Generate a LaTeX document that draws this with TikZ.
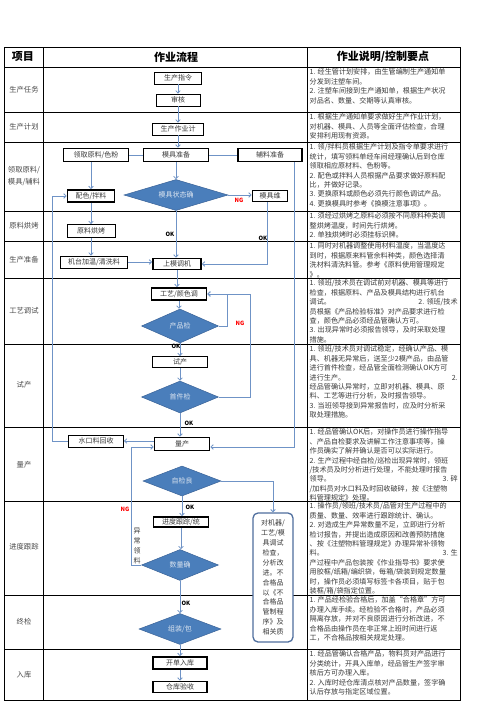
\documentclass[tikz,border=0pt]{standalone}
\usepackage{fontspec}
\setmainfont{Noto Sans CJK SC}
\usetikzlibrary{shapes.geometric,arrows.meta}
\definecolor{txt}{HTML}{3A3A3A}
\definecolor{lab}{HTML}{4A4A4A}
\definecolor{conncol}{HTML}{6F93C6}
\definecolor{diafill}{HTML}{4A7EBB}
\definecolor{diadraw}{HTML}{3A6398}
\definecolor{diatext}{HTML}{DCE5F0}
\definecolor{rbdraw}{HTML}{4F6E9E}
\newcommand\fs{\fontsize{7}{8}\selectfont}
\newcommand\RL[1]{\makebox[148pt][l]{#1}}
\tikzset{
  grid/.style={draw=black,line width=0.9pt},
  box/.style={draw=black,line width=0.9pt,fill=white,minimum height=12pt,inner sep=0pt,font=\fs,text=txt},
  tbox/.style={box,line width=1.6pt},
  dia/.style={diamond,aspect=3,inner sep=0pt,fill=diafill,draw=diadraw,line width=0.5pt,font=\fs,text=diatext},
  conn/.style={draw=conncol,line width=0.8pt},
  arr/.style={conn,-{Straight Barb[length=2.4pt,width=4.6pt]}},
  rowlab/.style={font=\fontsize{7.3}{10}\selectfont,text=lab,align=center,inner sep=0pt},
  rt/.style={anchor=north west,inner sep=0pt,align=left,font=\fontsize{7.1}{9.45}\selectfont,text=txt},
  head/.style={font=\fontsize{11}{12}\selectfont\bfseries,text=black,inner sep=0pt},
  ok/.style={font=\fontsize{5.8}{6}\selectfont\bfseries,text=black,inner sep=0pt},
  ng/.style={font=\fontsize{5.8}{6}\selectfont\bfseries,text=red,inner sep=0pt}
}
\begin{document}
\begin{tikzpicture}[x=1pt,y=-1pt]
\useasboundingbox (0,0) rectangle (496,702);
\fill[white] (0,0) rectangle (496,702);
% table
\draw[grid] (4,47) rectangle (460,700);
\foreach \yy in {67,112,142,211,241,278,344,427,501,595,649} \draw[grid] (4,\yy) -- (460,\yy);
\draw[grid] (43,47) -- (43,700);
\draw[grid] (307,47) -- (307,700);
% header
\node[head] (h1) at (23,57) {项目};
\node[head] (h2) at (176,57) {作业流程};
\node[head] (h3) at (383,57) {作业说明/控制要点};
% row labels
\node[rowlab] (r1) at (24,90) {生产任务};
\node[rowlab] (r2) at (24,127) {生产计划};
\node[rowlab,font=\fontsize{7.3}{12}\selectfont] (r3) at (24,176) {领取原料/\\模具/辅料};
\node[rowlab] (r4) at (24,226) {原料烘烤};
\node[rowlab] (r5) at (24,260) {生产准备};
\node[rowlab] (r6) at (24,311) {工艺调试};
\node[rowlab] (r7) at (24,385) {试产};
\node[rowlab] (r8) at (24,465) {量产};
\node[rowlab] (r9) at (24,547) {进度跟踪};
\node[rowlab] (r10) at (24,622) {终检};
\node[rowlab] (r11) at (24,675) {入库};
% flow nodes
\node[box,minimum width=47pt] (n1) at (178,78) {生产指令};
\node[box,minimum width=44pt] (n2) at (178,100) {审核};
\node[box,minimum width=51pt] (n3) at (178,129) {生产作业计};
\node[tbox,minimum width=65pt,minimum height=13pt] (n4) at (96,155) {领取原料/色粉};
\node[tbox,minimum width=65pt,minimum height=13pt] (n5) at (176,155) {模具准备};
\node[tbox,minimum width=64pt,minimum height=13pt] (n6) at (270,155) {辅料准备};
\node[tbox,minimum width=47pt] (n7) at (91,196) {配色/拌料};
\node[dia,minimum width=104pt,minimum height=31pt] (d1) at (176,195) {模具状态确};
\node[tbox,minimum width=35pt,minimum height=11pt] (n8) at (270,196) {模具维};
\node[box,minimum width=48pt,minimum height=13pt] (n9) at (91,231) {原料烘烤};
\node[box,minimum width=67pt] (n10) at (94,262) {机台加温/清洗料};
\node[tbox,minimum width=48pt,minimum height=11pt] (n11) at (177,264) {上模调机};
\node[tbox,minimum width=55pt] (n12) at (179,294) {工艺/颜色调};
\node[dia,minimum width=77pt,minimum height=34pt] (d2) at (180,326) {产品检};
\node[box,minimum width=55pt,minimum height=11pt] (n13) at (180,362) {试产};
\node[dia,minimum width=77pt,minimum height=32pt] (d3) at (180,397) {首件检};
\node[box,minimum width=55pt] (n14) at (96,441) {水口料回收};
\node[tbox,minimum width=55pt,minimum height=13pt] (n15) at (182,444) {量产};
\node[dia,minimum width=78pt,minimum height=30pt] (d4) at (182,481) {自检良};
\node[tbox,minimum width=55pt,minimum height=10pt] (n16) at (181,522) {进度跟踪/统};
\node[dia,minimum width=77pt,minimum height=31pt] (d5) at (180,565) {数量确};
\node[dia,minimum width=82pt,minimum height=31pt] (d6) at (180,629) {组装/包};
\node[tbox,minimum width=54pt] (n17) at (180,663) {开单入库};
\node[tbox,minimum width=54pt,minimum height=11pt] (n18) at (180,687) {仓库验收};
\node[draw=rbdraw,line width=1.3pt,rounded corners=5pt,fill=white,minimum width=40pt,minimum height=129pt,inner sep=0pt,align=center,font=\fontsize{7}{9.9}\selectfont,text=txt] (rb) at (273,577.5)
 {对机器/\\工艺/模\\具调试\\检查，\\分析改\\进。不\\合格品\\以《不\\合格品\\管制程\\序》及\\相关质};
\node[inner sep=0pt,align=center,font=\fontsize{7}{10.3}\selectfont,text=txt] (vt) at (137,546) {异\\常\\领\\料};
% coordinates
\coordinate (jx) at (250,294);
\coordinate (q) at (131,447);
\coordinate (r) at (294,447);
\coordinate (p) at (52,441);
% connectors
\draw[arr] (n1) -- (n2);
\draw[arr] (n2) -- (n3);
\draw[arr] (n3.south) -- (n3.south |- n5.north);
\draw[conn] (n4) -- (n5);
\draw[conn] (n5) -- (n6);
\draw[arr] (n4.south -| n7.north) -- (n7.north);
\draw[arr] (n5.south) -- (n5.south |- d1.north);
\draw[arr] (d1.east) -- (d1.east -| n8.west);
\draw[arr] (d1.south) -- (d1.south |- n11.north);
\draw[arr] (n7) -- (n9);
\draw[arr] (n9.south) -- (n9.south |- n10.north);
\draw[arr] (n10.east) -- (n10.east -| n11.west);
\draw[arr] ([xshift=-3pt]n8.south) -- ([xshift=-3pt]n8.south |- n11.east) -- (n11.east);
\draw[arr] (n11.south) -- (n11.south |- n12.north);
\draw[arr] (n12.south) -- (n12.south |- d2.north);
\draw[arr] (d2.east) -- ++(9,0) |- (n12.east);
\draw[arr] (d2.south) -- (d2.south |- n13.north);
\draw[arr] (n13.south) -- (n13.south |- d3.north);
\draw[arr] (d3.east) -| (jx) -- (n12.east);
\draw[arr] (d3.south) -- (d3.south |- n15.north);
\draw[arr] ([yshift=3pt]n15.west) -- ([yshift=3pt]n15.west -| n14.east);
\draw[arr] (n6.south -| r) -- (r) -- (r -| n15.east);
\draw[arr] (d4.east) -| (rb.north);
\draw[arr] (d4.south) -- (d4.south |- n16.north);
\draw[arr] (n16.south) -- (n16.south |- d5.north);
\draw[arr] (d5.west) -| (q) -- (q -| n15.west);
\draw[arr] (d5.south) -- (d5.south |- d6.north);
\draw[arr] (d6.south) -- (d6.south |- n17.north);
\draw[arr] (n17) -- (n18);
\draw[arr] (n14.west) -- (n14.west -| p) |- (n7.west);
% labels
\node[ok] (l1) at (170,234) {OK};
\node[ok] (l2) at (263,238) {OK};
\node[ng] (l3) at (239,200) {NG};
\node[ng] (l4) at (240,323) {NG};
\node[ok] (l5) at (176,346) {OK};
\node[ok] (l6) at (189,423) {OK};
\node[ok] (l7) at (190,507) {OK};
\node[ng] (l8) at (125,509) {NG};
\node[ok] (l9) at (186,603) {OK};
% right column texts
\node[rt] (t1) at (309.5,68.5) {\RL{1. 经生管计划安排，由生管编制生产通知单}\\\RL{分发到注塑车间。}\\\RL{2. 注塑车间接到生产通知单，根据生产状况}\\\RL{对品名、数量、交期等认真审核。}};
\node[rt] (t2) at (309.5,113.5) {\RL{1. 根据生产通知单要求做好生产作业计划，}\\\RL{对机器、模具、人员等全面评估检查，合理}\\\RL{安排利用现有资源。}};
\node[rt] (t3) at (309.5,143.5) {\RL{1. 领/拌料员根据生产计划及指令单要求进行}\\\RL{统计，填写领料单经车间经理确认后到仓库}\\\RL{领取相应原材料、色粉等。}\\\RL{2. 配色或拌料人员根据产品要求做好原料配}\\\RL{比，并做好记录。}\\\RL{3. 更换原料或颜色必须先行颜色调试产品。}\\\RL{4. 更换模具时参考《换模注意事项》。}};
\node[rt] (t4) at (309.5,212.5) {\RL{1. 须经过烘烤之原料必须按不同原料种类调}\\\RL{整烘烤温度，时间先行烘烤。}\\\RL{2. 单独烘烤时必须挂标识牌。}};
\node[rt] (t5) at (309.5,242.5) {\RL{1. 同时对机器调整使用材料温度，当温度达}\\\RL{到时，根据原来料管余料种类，颜色选择清}\\\RL{洗材料清洗料管。参考《原料使用管理规定}\\\RL{》。}};
\node[rt] (t6) at (309.5,279.5) {\RL{1. 领班/技术员在调试前对机器、模具等进行}\\\RL{检查，根据原料、产品及模具结构进行机台}\\\RL{调试。\hfill 2. 领班/技术}\\\RL{员根据《产品检验标准》对产品要求进行检}\\\RL{查，颜色产品必须经品管确认方可。}\\\RL{3. 出现异常时必须报告领导，及时采取处理}\\\RL{措施。}};
\node[rt] (t7) at (309.5,345.5) {\RL{1. 领班/技术员对调试稳定，经确认产品、模}\\\RL{具、机器无异常后，送至少2模产品，由品管}\\\RL{进行首件检查，经品管全面检测确认OK方可}\\\RL{进行生产。\hfill 2.}\\\RL{经品管确认异常时，立即对机器、模具、原}\\\RL{料、工艺等进行分析，及时报告领导。}\\\RL{3. 当班领导接到异常报告时，应及时分析采}\\\RL{取处理措施。}};
\node[rt] (t8) at (309.5,428.5) {\RL{1. 经品管确认OK后，对操作员进行操作指导}\\\RL{、产品自检要求及讲解工作注意事项等，操}\\\RL{作员确实了解并确认是否可以实际进行。}\\\RL{2. 生产过程中经自检/巡检出现异常时，领班}\\\RL{/技术员及时分析进行处理，不能处理时报告}\\\RL{领导。\hfill 3. 碎}\\\RL{/加料员对水口料及时回收破碎，按《注塑物}\\\RL{料管理规定》处理。}};
\node[rt] (t9) at (309.5,502.5) {\RL{1. 操作员/领班/技术员/品管对生产过程中的}\\\RL{质量、数量、效率进行跟踪统计、确认。}\\\RL{2. 对造成生产异常数量不足，立即进行分析}\\\RL{检讨报告，并提出造成原因和改善预防措施}\\\RL{、按《注塑物料管理规定》办理异常补领物}\\\RL{料。\hfill 3. 生}\\\RL{产过程中产品包装按《作业指导书》要求使}\\\RL{用胶框/纸箱/编织袋，每箱/袋装到规定数量}\\\RL{时，操作员必须填写标签卡各项目，贴于包}\\\RL{装框/箱/袋指定位置。}};
\node[rt] (t10) at (309.5,596.5) {\RL{1. 产品经检验合格后，加盖“合格章”方可}\\\RL{办理入库手续。经检验不合格时，产品必须}\\\RL{隔离存放，并对不良原因进行分析改进，不}\\\RL{合格品由操作员在非正常上班时间进行返}\\\RL{工，不合格品按相关规定处理。}};
\node[rt] (t11) at (309.5,650.5) {\RL{1. 经品管确认合格产品，物料员对产品进行}\\\RL{分类统计，开具入库单，经品管生产签字审}\\\RL{核后方可办理入库。}\\\RL{2. 入库时经仓库清点核对产品数量，签字确}\\\RL{认后存放与指定区域位置。}};
\end{tikzpicture}
\end{document}
